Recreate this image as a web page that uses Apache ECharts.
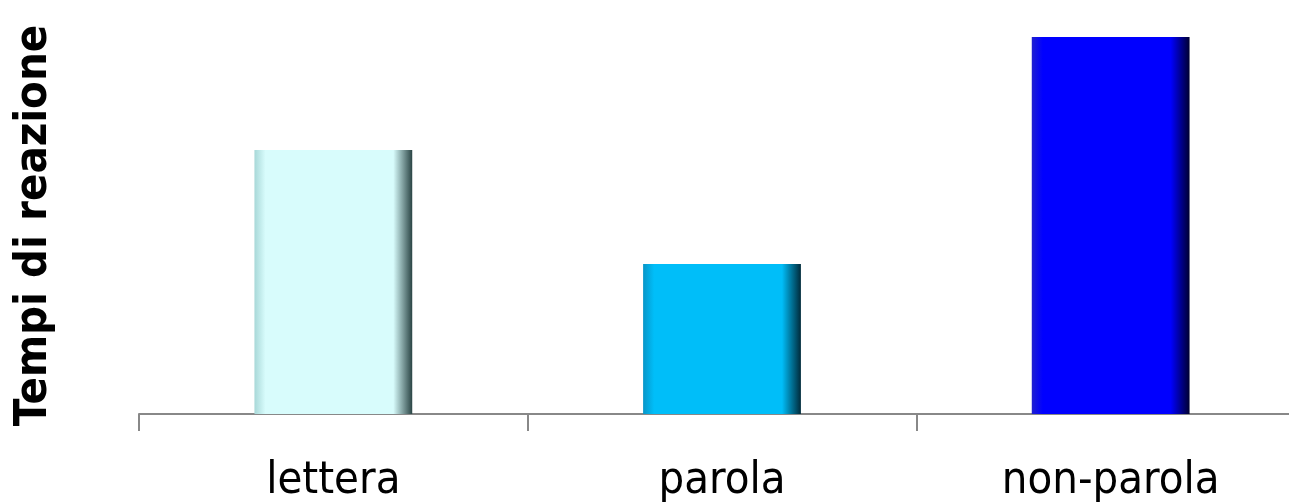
<!DOCTYPE html>
<html>
<head>
<meta charset="utf-8">
<script src="https://cdn.jsdelivr.net/npm/echarts@6/dist/echarts.min.js"></script>
<style>
html,body{margin:0;padding:0;background:#fff;}
#c{width:1289px;height:504px;}
</style>
</head>
<body>
<div id="c"></div>
<script>
const categories = ['lettera', 'parola', 'non-parola'];
const values = [700, 398, 1000];
const axisTitle = 'Tempi di reazione';
const baseColors = ['#D8FCFC', '#00BEF9', '#0000FF'];
const edgeLight = ['#A8D8D8', '#0896C8', '#2020D0'];
const edgeDark = ['#2A4444', '#002A3A', '#000030'];

function bevel(i) {
  return {
    type: 'linear', x: 0, y: 0, x2: 1, y2: 0,
    colorStops: [
      { offset: 0, color: edgeLight[i] },
      { offset: 0.07, color: baseColors[i] },
      { offset: 0.88, color: baseColors[i] },
      { offset: 1, color: edgeDark[i] }
    ]
  };
}

const chart = echarts.init(document.getElementById('c'));
chart.setOption({
  animation: false,
  grid: { left: 139, right: -16, top: 37, bottom: 90, containLabel: false, outerBoundsMode: 'none' },
  xAxis: {
    type: 'category',
    data: categories,
    axisLine: { show: true, lineStyle: { color: '#888888', width: 2 } },
    axisTick: { show: true, length: 17, lineStyle: { color: '#888888', width: 2 } },
    axisLabel: {
      color: '#000',
      fontSize: 45,
      fontFamily: 'DejaVu Sans Condensed',
      margin: 45
    }
  },
  yAxis: {
    type: 'value',
    min: 0,
    max: 1000,
    axisLine: { show: false },
    axisTick: { show: false },
    axisLabel: { show: false },
    splitLine: { show: false },
    name: axisTitle,
    nameLocation: 'middle',
    nameGap: 82,
    nameRotate: 90,
    nameTextStyle: {
      color: '#000',
      fontSize: 45,
      fontWeight: 'bold',
      fontFamily: 'DejaVu Sans Condensed'
    }
  },
  series: [{
    type: 'bar',
    barWidth: '40.6%',
    data: values.map((v, i) => ({
      value: v,
      itemStyle: {
        color: bevel(i),
        borderColor: edgeLight[i],
        borderWidth: 0
      }
    }))
  }]
});
</script>
</body>
</html>
